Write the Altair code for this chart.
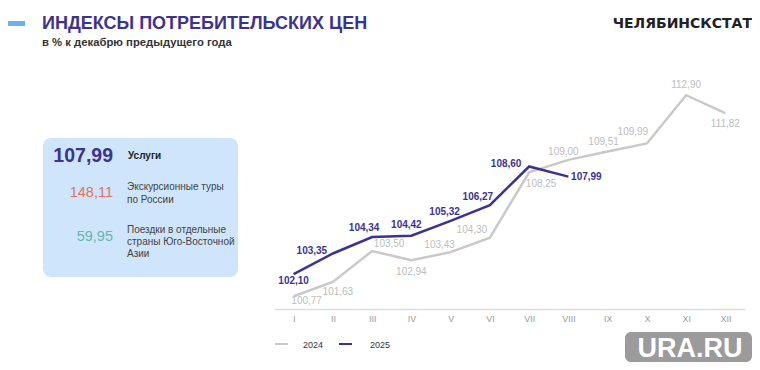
import altair as alt
import pandas as pd

months = ["I", "II", "III", "IV", "V", "VI", "VII", "VIII", "IX", "X", "XI", "XII"]
v2024 = [100.77, 101.63, 103.50, 102.94, 103.43, 104.30, 108.25, 109.00, 109.51, 109.99, 112.90, 111.82]
v2025 = [102.10, 103.35, 104.34, 104.42, 105.32, 106.27, 108.60, 107.99]
years = ["2024", "2025"]

# label offsets (px) relative to each point
off2024 = [(13, 5), (5, 10), (17, -7), (0, 12), (-11, -7), (-18, -8), (12, 12), (-5, -8), (-4, -9), (-14, -11), (0, -10), (0, 11)]
off2025 = [(0, 7), (-21, -2), (-8, -9), (-5, -11), (-6, -9), (-12, -8), (-23, -2), (18, 0)]

FONT = "Liberation Sans"
NAVY = "#3b3392"
GRAY = "#c9c9c9"

def fmt(v):
    return f"{v:.2f}".replace(".", ",")

rows = [{"month": m, "value": v, "year": "2024", "label": fmt(v)} for m, v in zip(months, v2024)]
rows += [{"month": m, "value": v, "year": "2025", "label": fmt(v)} for m, v in zip(months, v2025)]
df = pd.DataFrame(rows)

# plot origin on page: (274, 77)
OX, OY = 274, 77

x_enc = alt.X("month:O", sort=months,
              scale=alt.Scale(type="point", padding=0.5, domain=months),
              axis=alt.Axis(title=None, labelAngle=0, ticks=False, domainColor="#dddddd",
                            domainWidth=1.5, labelColor="#9a9a9a", labelFontSize=9,
                            labelPadding=5, grid=False, labelFont=FONT))
y_enc = alt.Y("value:Q", scale=alt.Scale(domain=[100, 114], nice=False, zero=False), axis=None)

base = alt.Chart(df)
lines = base.mark_line(strokeWidth=2.5).encode(
    x=x_enc, y=y_enc,
    color=alt.Color("year:N", scale=alt.Scale(domain=years, range=[GRAY, NAVY]), legend=None),
    order=alt.Order("year:N"),
)

layers = [lines]
for i, m in enumerate(months):
    dx, dy = off2024[i]
    layers.append(
        base.transform_filter((alt.datum.year == "2024") & (alt.datum.month == m))
        .mark_text(font=FONT, fontSize=10, color="#bdbdbd", dx=dx, dy=dy)
        .encode(x=alt.X("month:O", sort=months), y="value:Q", text="label:N")
    )
for i, m in enumerate(months[:len(v2025)]):
    dx, dy = off2025[i]
    layers.append(
        base.transform_filter((alt.datum.year == "2025") & (alt.datum.month == m))
        .mark_text(font=FONT, fontSize=10, fontWeight="bold", color=NAVY, dx=dx, dy=dy)
        .encode(x=alt.X("month:O", sort=months), y="value:Q", text="label:N")
    )

one = pd.DataFrame({"a": [0]})

def txt(s, X, Y, size, color, weight="normal", align="left", baseline="middle", font=FONT):
    kw = dict(font=font, fontSize=size, color=color, fontWeight=weight, align=align, baseline=baseline)
    return alt.Chart(one).mark_text(**kw).encode(
        x=alt.value(X - OX), y=alt.value(Y - OY), text=alt.value(s))

def box(X1, Y1, X2, Y2, color, r=0):
    return alt.Chart(one).mark_rect(color=color, cornerRadius=r).encode(
        x=alt.value(X1 - OX), x2=alt.value(X2 - OX), y=alt.value(Y1 - OY), y2=alt.value(Y2 - OY))

def seg(X1, X2, Y, color):
    return alt.Chart(one).mark_rule(color=color, strokeWidth=2).encode(
        x=alt.value(X1 - OX), x2=alt.value(X2 - OX), y=alt.value(Y - OY))

deco = [
    box(8, 21, 25, 26, "#6cb0ec"),
    txt("ИНДЕКСЫ ПОТРЕБИТЕЛЬСКИХ ЦЕН", 42, 29, 18, NAVY, "bold", baseline="alphabetic"),
    txt("в % к декабрю предыдущего года", 42, 43, 11.3, "#333333", "bold"),
    txt("ЧЕЛЯБИНСКСТАТ", 752, 28, 14, "#222222", "bold", align="right", baseline="alphabetic",
        font="DejaVu Sans"),
    box(43, 138, 238, 277, "#cfe5fb", 8),
    txt("107,99", 113, 156, 19.5, NAVY, "bold", align="right"),
    txt("Услуги", 128, 156, 10, "#222222", "bold"),
    txt("148,11", 113, 193, 14.5, "#e0735f", align="right"),
    txt("Экскурсионные туры", 127, 187, 10, "#444444"),
    txt("по России", 127, 200, 10, "#444444"),
    txt("59,95", 113, 237, 14.5, "#5fb9ae", align="right"),
    txt("Поездки в отдельные", 127, 230, 10, "#444444"),
    txt("страны Юго-Восточной", 127, 242, 10, "#444444"),
    txt("Азии", 127, 254, 10, "#444444"),
    seg(275, 288, 344, GRAY),
    txt("2024", 303, 345, 9, "#333333"),
    seg(339, 352, 344, NAVY),
    txt("2025", 370, 345, 9, "#333333"),
    box(625, 332, 752, 362, "#9b9b9b", 6),
    txt("URA.RU", 690, 349, 27, "#ffffff", "bold", align="center"),
]

chart = alt.layer(*deco, *layers).properties(
    width=471, height=232,
    autosize=alt.AutoSizeParams(type="none"),
    padding={"left": 266, "top": 69, "right": 7, "bottom": 53},
    background="white",
).configure_view(strokeWidth=0)

chart.save("out.html", embed_options={"renderer": "svg", "actions": False})
